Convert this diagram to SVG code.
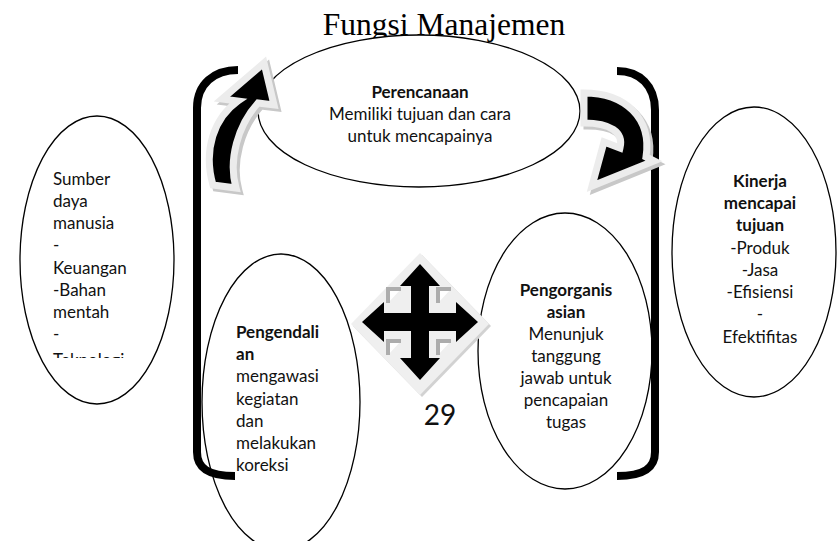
<svg xmlns="http://www.w3.org/2000/svg" width="837" height="541" viewBox="0 0 837 541">
<defs>
<style>
.node{fill:#fff;stroke:#000;stroke-width:1.3}
.t{font-family:Lato,"Liberation Sans",sans-serif;font-size:17px;fill:#111}
.b{font-weight:bold}
.c{text-anchor:middle}
.brk{fill:none;stroke:#000;stroke-width:8;stroke-linecap:butt}
.arr{fill:#000;stroke:#ececec;stroke-width:7;stroke-linejoin:miter}
.sh{fill:#c8c8c8;stroke:#c8c8c8;stroke-width:7;stroke-linejoin:miter}
.mark{fill:#fff;stroke:#adadad;stroke-width:4}
</style>
<clipPath id="clipSumber"><rect x="20" y="100" width="160" height="258"/></clipPath>
</defs>
<rect width="837" height="541" fill="#fff"/>

<text x="444" y="35" font-family="'Liberation Serif',serif" font-size="31.5" text-anchor="middle" fill="#000">Fungsi Manajemen</text>

<g id="perencanaan">
<ellipse class="node" cx="419" cy="111" rx="161" ry="76"/>
<text class="t c b" x="420" y="98">Perencanaan</text>
<text class="t c" x="420" y="120">Memiliki tujuan dan cara</text>
<text class="t c" x="420" y="142">untuk mencapainya</text>
</g>

<g id="sumber-daya">
<ellipse class="node" cx="97" cy="260" rx="77" ry="144"/>
<g clip-path="url(#clipSumber)">
<text class="t" x="53" y="185">Sumber</text>
<text class="t" x="53" y="207">daya</text>
<text class="t" x="53" y="229">manusia</text>
<text class="t" x="53" y="251">-</text>
<text class="t" x="53" y="274">Keuangan</text>
<text class="t" x="53" y="296">-Bahan</text>
<text class="t" x="53" y="318">mentah</text>
<text class="t" x="53" y="340">-</text>
<text class="t" x="53" y="366">Teknologi</text>
</g>
</g>

<g id="kinerja">
<ellipse class="node" cx="754" cy="252" rx="82" ry="145"/>
<text class="t c b" x="760" y="187">Kinerja</text>
<text class="t c b" x="760" y="209">mencapai</text>
<text class="t c b" x="760" y="231">tujuan</text>
<text class="t c" x="760" y="254">-Produk</text>
<text class="t c" x="760" y="276">-Jasa</text>
<text class="t c" x="760" y="298">-Efisiensi</text>
<text class="t c" x="760" y="320">-</text>
<text class="t c" x="760" y="343">Efektifitas</text>
</g>

<g id="pengendalian">
<ellipse class="node" cx="281" cy="402" rx="79" ry="148"/>
<text class="t b" x="236" y="338">Pengendali</text>
<text class="t b" x="236" y="360">an</text>
<text class="t" x="236" y="382">mengawasi</text>
<text class="t" x="236" y="405">kegiatan</text>
<text class="t" x="236" y="427">dan</text>
<text class="t" x="236" y="449">melakukan</text>
<text class="t" x="236" y="471">koreksi</text>
</g>

<g id="pengorganisasian">
<ellipse class="node" cx="565" cy="351" rx="87" ry="138"/>
<text class="t c b" x="566" y="296">Pengorganis</text>
<text class="t c b" x="566" y="318">asian</text>
<text class="t c" x="566" y="340">Menunjuk</text>
<text class="t c" x="566" y="362">tanggung</text>
<text class="t c" x="566" y="384">jawab untuk</text>
<text class="t c" x="566" y="406">pencapaian</text>
<text class="t c" x="566" y="428">tugas</text>
</g>

<g id="connectors">
<path class="brk" d="M 238 70 C 214 70, 197 84, 197 108 L 197 452 C 197 468, 208 476, 235 476"/>
<path class="brk" d="M 617 71 C 640 71, 655 86, 655 110 L 655 452 C 655 468, 644 476, 617 476"/>

<g transform="translate(3,3)">
<path class="sh" d="M 213 185 C 203 150, 214 118, 238 101 L 222 99 L 264 63 L 274 105 L 258 103 C 238 125, 228 160, 236 188 Z"/>
</g>
<path class="arr" d="M 213 185 C 203 150, 214 118, 238 101 L 222 99 L 264 63 L 274 105 L 258 103 C 238 125, 228 160, 236 188 Z"/>

<g transform="translate(3,3)">
<path class="sh" d="M 584 93 C 625 93, 652 118, 646 157 L 654 161 L 592 186 L 604 142 L 620 148 C 624 132, 610 123, 584 123 Z"/>
</g>
<path class="arr" d="M 584 93 C 625 93, 652 118, 646 157 L 654 161 L 592 186 L 604 142 L 620 148 C 624 132, 610 123, 584 123 Z"/>

<g id="cross">
<path d="M422 255 L491 326 L422 397 L353 326 Z" fill="#d2d2d2"/>
<path d="M420 253 L489 324 L420 395 L351 324 Z" fill="#efefef"/>
<polyline class="mark" points="388,303 388,289 401,289"/>
<polyline class="mark" points="438,303 438,289 451,289"/>
<polyline class="mark" points="388,355 388,341 401,341"/>
<polyline class="mark" points="438,355 438,341 451,341"/>
<path fill="#000" d="M420 264 L440 286 L429 286 L429 313 L456 313 L456 302 L478 322 L456 342 L456 331 L429 331 L429 358 L440 358 L420 380 L400 358 L411 358 L411 331 L384 331 L384 342 L362 322 L384 302 L384 313 L411 313 L411 286 L400 286 Z"/>
</g>
</g>

<text x="440" y="425" font-family="Lato,'Liberation Sans',sans-serif" font-size="28" text-anchor="middle" fill="#111">29</text>
</svg>
